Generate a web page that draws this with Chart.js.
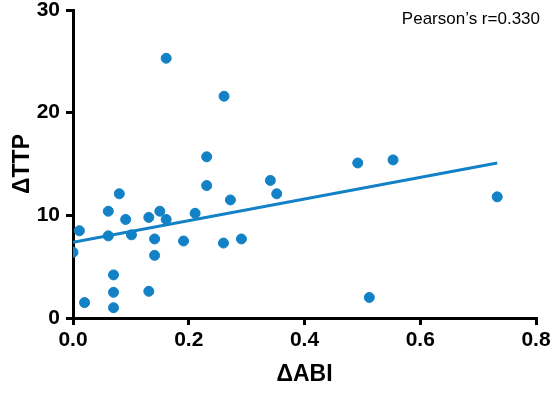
<!DOCTYPE html>
<html>
<head>
<meta charset="utf-8">
<script src="https://cdn.jsdelivr.net/npm/chart.js@4/dist/chart.umd.min.js"></script>
<style>
  html, body { margin: 0; padding: 0; background: #fff; }
  #wrap { width: 554px; height: 396px; }
</style>
</head>
<body>
<div id="wrap"><canvas id="chart"></canvas></div>
<script>
// values
var abiValues = [0.00, 0.011, 0.02, 0.061, 0.061, 0.07, 0.07, 0.07, 0.08, 0.091, 0.101,
                 0.131, 0.131, 0.141, 0.141, 0.15, 0.161, 0.161, 0.191, 0.211, 0.231, 0.231,
                 0.26, 0.261, 0.272, 0.291, 0.341, 0.352, 0.492, 0.512, 0.553, 0.733];
var ttpValues = [6.4, 8.5, 1.5, 10.4, 8.0, 4.2, 2.5, 1.0, 12.1, 9.6, 8.1,
                 9.8, 2.6, 7.7, 6.1, 10.4, 9.6, 25.3, 7.5, 10.2, 15.7, 12.9,
                 7.3, 21.6, 11.5, 7.7, 13.4, 12.1, 15.1, 2.0, 15.4, 11.8];

// fitted line
var fitIntercept = 7.37;
var fitSlope = 10.55;
var pearsonLabel = "Pearson\u2019s r=0.330";

var xTicks = [0, 0.2, 0.4, 0.6, 0.8];
var yTicks = [0, 10, 20, 30];

var blue = "#1281c6";
var fontFamily = "Arial, 'Liberation Sans', Helvetica, sans-serif";

var points = abiValues.map(function(x, i) { return {x: x, y: ttpValues[i]}; });
var xMin = 0, xMax = Math.max.apply(null, abiValues);
var fitPoints = [
    {x: xMin, y: fitIntercept + fitSlope * xMin},
    {x: xMax, y: fitIntercept + fitSlope * xMax}
];

// draws the correlation label in the top right of the plot
var pearsonText = {
    id: "pearsonText",
    afterDraw: function(chart) {
        var ctx = chart.ctx, area = chart.chartArea;
        ctx.save();
        ctx.fillStyle = "#000";
        ctx.font = "17px " + fontFamily;
        ctx.textAlign = "right";
        ctx.textBaseline = "middle";
        ctx.fillText(pearsonLabel, area.right + 4, area.top + 9);
        ctx.restore();
    }
};

new Chart(document.getElementById("chart"), {
    type: "scatter",
    data: {
        datasets: [{
            data: points,
            backgroundColor: blue,
            borderColor: blue,
            pointRadius: 5,
            pointHoverRadius: 5,
            order: 1
        }, {
            type: "line",
            data: fitPoints,
            borderColor: blue,
            borderWidth: 3,
            pointRadius: 0,
            fill: false,
            order: 2
        }]
    },
    options: {
        responsive: true,
        maintainAspectRatio: false,
        animation: false,
        layout: { padding: { left: 0, right: 18, top: 10, bottom: 0 } },
        plugins: { legend: { display: false }, tooltip: { enabled: false } },
        scales: {
            x: {
                type: "linear",
                min: 0, max: 0.8,
                afterBuildTicks: function(scale) {
                    scale.ticks = xTicks.map(function(v) { return {value: v}; });
                },
                afterFit: function(scale) {
                    scale.height = 78;
                    scale.paddingLeft = 0;
                    scale.paddingRight = 0;
                },
                border: { color: "#000", width: 3 },
                grid: { drawOnChartArea: false, color: "#000", lineWidth: 3, tickLength: 7 },
                ticks: {
                    color: "#000", padding: 3, maxRotation: 0,
                    font: { family: fontFamily, size: 21, weight: "bold" },
                    callback: function(v) { return v.toFixed(1); }
                },
                title: {
                    display: true, text: "\u0394ABI", color: "#000",
                    font: { family: fontFamily, size: 23, weight: "bold" },
                    padding: { top: 0, bottom: 8 }
                }
            },
            y: {
                type: "linear",
                min: 0, max: 30,
                afterBuildTicks: function(scale) {
                    scale.ticks = yTicks.map(function(v) { return {value: v}; });
                },
                afterFit: function(scale) {
                    scale.width = 73;
                    scale.paddingTop = 0;
                    scale.paddingBottom = 0;
                },
                border: { color: "#000", width: 3 },
                grid: { drawOnChartArea: false, color: "#000", lineWidth: 3, tickLength: 7 },
                ticks: {
                    color: "#000", padding: 6,
                    font: { family: fontFamily, size: 21, weight: "bold" }
                },
                title: {
                    display: true, text: "\u0394TTP", color: "#000",
                    font: { family: fontFamily, size: 23, weight: "bold" },
                    padding: { top: 9, bottom: 0 }
                }
            }
        }
    },
    plugins: [pearsonText]
});
</script>
</body>
</html>
